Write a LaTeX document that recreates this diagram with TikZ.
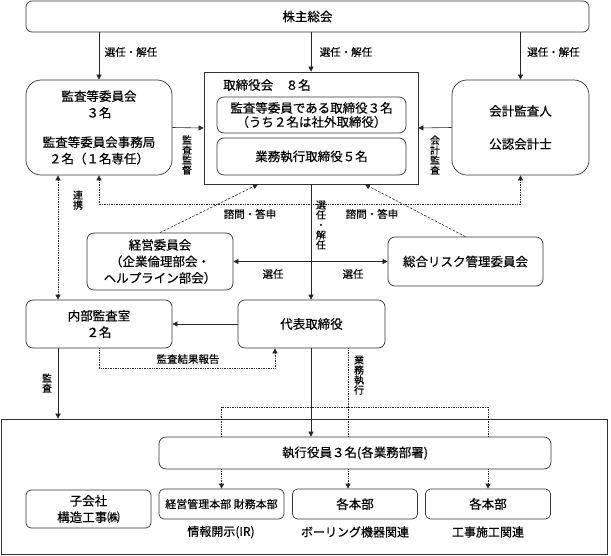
\documentclass[tikz,border=0pt]{standalone}
\usepackage{fontspec}
\newfontfamily\jpfont[FakeBold=0.4]{Noto Sans CJK JP}
\usepackage{tikz}
\usetikzlibrary{arrows.meta}

\begin{document}
\begin{tikzpicture}[x=1pt, y=-1pt, >={Triangle[length=5pt,width=5pt]},
	main/.style={draw=black!80, line width=0.7pt, rounded corners=7pt, fill=white, align=center, inner sep=0pt, font=\jpfont\fontsize{12.5}{16.5}\selectfont},
	big/.style={main, rounded corners=15pt},
	bottom/.style={main, rounded corners=5pt, minimum width=125pt, minimum height=30pt},
	lab/.style={inner sep=0pt, font=\jpfont\fontsize{10.5}{12}\selectfont},
	vlab/.style={inner sep=0pt, align=center, font=\jpfont\fontsize{10}{10}\selectfont},
	arr/.style={draw=black!85, line width=0.6pt, ->},
	dotline/.style={draw=black!85, line width=0.7pt, densely dotted},
	dashline/.style={draw=black!85, line width=0.6pt, dash pattern=on 2.5pt off 1.5pt, ->}]
	\useasboundingbox (0,0) rectangle (611,555);
	%Boksene her
	\node[main, rounded corners=6pt, minimum width=563pt, minimum height=31pt] (1) at (307.5,16.5) {株主総会};
	\node[big, minimum width=146pt, minimum height=95pt] (2) at (99,127.5) {監査等委員会\\３名\\[13pt]監査等委員会事務局\\２名（１名専任）};
	\node[draw=black!80, line width=0.7pt, minimum width=214pt, minimum height=112pt] (3) at (311,128) {};
	\node[lab, anchor=west, font=\jpfont\fontsize{12.5}{14}\selectfont] (3t) at (223,85) {取締役会　８名};
	\node[main, minimum width=189pt, minimum height=36pt, font=\jpfont\fontsize{12.5}{14}\selectfont] (4) at (311.5,115) {監査等委員である取締役３名\\（うち２名は社外取締役）};
	\node[main, minimum width=189pt, minimum height=37pt] (5) at (311.5,156.5) {業務執行取締役５名};
	\node[big, minimum width=137pt, minimum height=95pt] (6) at (520.5,127.5) {会計監査人\\[16.5pt]公認会計士};
	\node[main, minimum width=146pt, minimum height=57pt] (7) at (160,261.5) {経営委員会\\（企業倫理部会・\\ヘルプライン部会）};
	\node[main, minimum width=155pt, minimum height=49pt] (8) at (465.5,261.5) {総合リスク管理委員会};
	\node[main, minimum width=146pt, minimum height=48pt] (9) at (99,324) {内部監査室\\２名};
	\node[main, minimum width=147pt, minimum height=48pt] (10) at (311.5,324) {代表取締役};
	\node[draw=black!80, line width=0.7pt, minimum width=606pt, minimum height=135pt] (11) at (304,486.5) {};
	\node[main, minimum width=392pt, minimum height=32pt] (12) at (355,453) {執行役員３名(各業務部署)};
	\node[bottom, minimum height=38pt] (13) at (88.5,509) {子会社\\構造工事㈱};
	\node[bottom, font=\jpfont\fontsize{11}{13}\selectfont] (14) at (221.5,504) {経営管理本部 財務本部};
	\node[bottom] (15) at (355,504) {各本部};
	\node[bottom] (16) at (488,504) {各本部};

	%Pilene her
	\draw[arr] (1.south -| 2.north) -- (2.north);
	\draw[arr] (1.south -| 3.north) -- (3.north);
	\draw[arr] (1.south -| 6.north) -- (6.north);
	\draw[arr] (2.east) -- (3.west);
	\draw[arr] (6.west) -- (3.east);
	\draw[dotline, <->] (2.south) -- ++(0,29) -| (6.south);
	\draw[dotline, <->] ([xshift=-41pt]2.south) -- ([xshift=-41pt]9.north);
	\draw[dashline] (7.north) -- ([xshift=-53pt]3.south);
	\draw[dashline] (8.north) -- ([xshift=54pt]3.south);
	\draw[arr] (3.south) -- (3.south |- 10.north);
	\draw[arr] (3.south |- 7.east) -- (7.east);
	\draw[arr] (3.south |- 8.west) -- (8.west);
	\draw[arr] (10.west) -- (9.east);
	\draw[dotline, ->] (9.south) -- ++(0,20) -| ([xshift=-36.5pt]10.south);
	\draw[arr] ([xshift=-41pt]9.south) -- ([xshift=-41pt]9.south |- 11.north);
	\draw[arr] (3.south |- 10.south) -- (3.south |- 12.north);
	\coordinate (s) at (348,407);
	\draw[dotline] ([xshift=36.5pt]10.south) -- (s);
	\draw[dotline] (14.north |- s) -- (16.north |- s);
	\draw[dotline] (14.north |- s) -- (14.north |- 12.north);
	\draw[dotline, ->] (14.north |- 12.south) -- (14.north);
	\draw[dotline] (s) -- (s |- 12.north);
	\draw[dotline, ->] (s |- 12.south) -- (s |- 15.north);
	\draw[dotline] (16.north |- s) -- (16.north |- 12.north);
	\draw[dotline, ->] (16.north |- 12.south) -- (16.north);

	%Tekstene her
	\node[lab] (l1) at (131,52) {選任・解任};
	\node[lab] (l2) at (346,52) {選任・解任};
	\node[lab] (l3) at (553.5,52) {選任・解任};
	\node[vlab] (v1) at (187,155) {監\\査\\監\\督};
	\node[vlab] (v2) at (435,155) {会\\計\\監\\査};
	\node[vlab] (v3) at (78,200) {連\\携};
	\node[lab] (l4) at (250,214) {諮問・答申};
	\node[lab] (l5) at (372,214) {諮問・答申};
	\node[vlab] (v4) at (321,225) {選\\任\\・\\解\\任};
	\node[lab] (l6) at (273,274) {選任};
	\node[lab] (l7) at (353,274) {選任};
	\node[lab] (l8) at (188,359) {監査結果報告};
	\node[vlab] (v5) at (47,383) {監\\査};
	\node[vlab] (v6) at (359,375) {業\\務\\執\\行};
	\node[lab, font=\jpfont\fontsize{12}{14}\selectfont] (l9) at (221,532) {情報開示(IR)};
	\node[lab, font=\jpfont\fontsize{12}{14}\selectfont] (l10) at (355,532) {ボーリング機器関連};
	\node[lab, font=\jpfont\fontsize{12}{14}\selectfont] (l11) at (488,532) {工事施工関連};
\end{tikzpicture}
\end{document}
